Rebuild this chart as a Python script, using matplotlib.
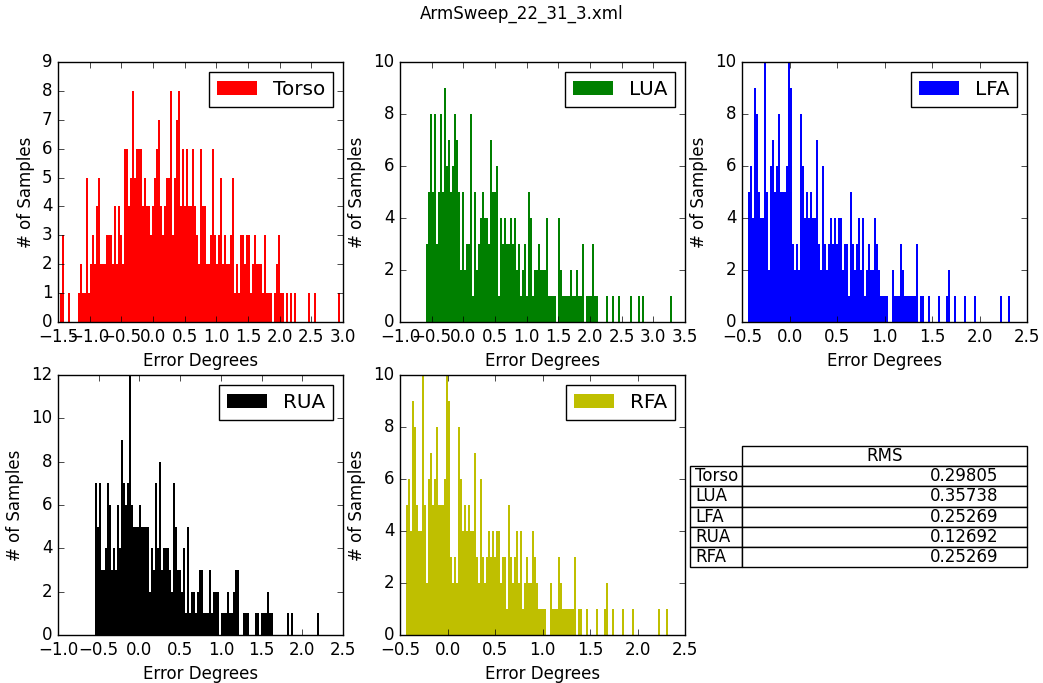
import numpy as np
import matplotlib
matplotlib.use("Agg")
import matplotlib.pyplot as plt

# ---------------- data (histogram counts) ----------------
title = "ArmSweep_22_31_3.xml"
parts = ["Torso", "LUA", "LFA", "RUA", "RFA"]
rms_values = [0.29805, 0.35738, 0.25269, 0.12692, 0.25269]

torso_start, torso_width = -1.468, 0.0316
torso_counts = [1, 3, 0, 0, 1, 0, 0, 0, 0, 1, 2, 1, 1, 5, 1, 2, 3, 2, 4, 5,
                2, 2, 2, 3, 3, 3, 2, 4, 2, 4, 3, 2, 6, 6, 4, 5, 8, 5, 6, 6,
                6, 4, 5, 4, 4, 3, 4, 5, 6, 7, 4, 3, 4, 5, 5, 8, 3, 5, 7, 8,
                4, 6, 4, 6, 4, 4, 6, 4, 3, 2, 6, 4, 4, 2, 2, 3, 6, 3, 2, 3,
                5, 2, 3, 2, 2, 3, 5, 1, 2, 1, 3, 3, 2, 3, 3, 1, 2, 3, 2, 2,
                2, 1, 3, 1, 1, 1, 0, 1, 2, 3, 1, 1, 0, 1, 0, 1, 0, 1, 0, 0,
                0, 0, 0, 0, 1, 0, 0, 1, 0, 0, 0, 0, 0, 0, 0, 0, 0, 0, 0, 1]

lua_start, lua_width = -0.595, 0.0316
lua_counts = [3, 5, 8, 5, 8, 3, 5, 8, 5, 9, 6, 7, 5, 6, 8, 7, 5, 2, 5, 2,
              3, 3, 8, 1, 5, 2, 3, 4, 5, 4, 4, 3, 7, 5, 5, 6, 1, 4, 3, 4,
              3, 3, 4, 3, 4, 2, 3, 1, 2, 3, 1, 5, 4, 1, 2, 2, 3, 2, 2, 2,
              4, 1, 1, 1, 1, 0, 4, 2, 1, 1, 1, 1, 2, 1, 1, 2, 1, 1, 3, 0,
              1, 1, 1, 3, 1, 1, 0, 0, 0, 0, 1, 0, 0, 1, 0, 0, 1, 0, 0, 0,
              0, 0, 1, 0, 0, 0, 1, 0, 1, 0, 0, 0, 0, 0, 0, 0, 0, 0, 0, 0,
              0, 0, 1]

lfa_start, lfa_width = -0.4333, 0.02105
lfa_counts = [5, 6, 4, 9, 8, 5, 4, 4, 10, 5, 2, 6, 7, 5, 6, 8, 5, 5, 5, 6,
              10, 9, 3, 2, 3, 2, 8, 6, 4, 5, 4, 5, 4, 4, 7, 3, 2, 6, 3, 2,
              3, 4, 3, 4, 3, 4, 4, 2, 3, 3, 1, 5, 3, 2, 3, 4, 2, 4, 1, 2,
              3, 2, 2, 4, 3, 2, 1, 1, 1, 1, 0, 0, 2, 1, 1, 1, 3, 2, 1, 1,
              1, 1, 1, 1, 3, 0, 1, 1, 0, 0, 1, 0, 0, 0, 0, 1, 0, 0, 0, 1,
              2, 0, 0, 1, 0, 0, 0, 0, 1, 0, 0, 0, 0, 1, 0, 0, 0, 0, 0, 0,
              0, 0, 0, 0, 0, 0, 1, 0, 0, 0, 1]

rua_start, rua_width = -0.545, 0.0246
rua_counts = [7, 5, 7, 3, 3, 4, 7, 6, 3, 4, 3, 6, 4, 9, 7, 6, 7, 12, 6, 5,
              5, 5, 6, 5, 5, 5, 5, 2, 4, 3, 7, 4, 8, 3, 4, 4, 4, 3, 2, 7,
              5, 3, 3, 2, 4, 1, 5, 1, 2, 2, 1, 2, 3, 3, 1, 1, 1, 3, 1, 2,
              2, 2, 0, 1, 1, 1, 2, 1, 1, 2, 3, 3, 0, 0, 1, 1, 1, 0, 0, 0,
              1, 1, 0, 1, 1, 1, 2, 1, 1, 0, 0, 0, 0, 0, 0, 0, 1, 0, 1, 0,
              0, 0, 0, 0, 0, 0, 0, 0, 0, 0, 0, 1]

# RFA histogram is identical to LFA in the picture (same RMS as well)
rfa_start, rfa_width = -0.4333, 0.02105
rfa_counts = list(lfa_counts)

# ---------------- figure ----------------
plt.style.use("classic")
plt.rcParams["font.family"] = ["DejaVu Sans"]

fig, axes = plt.subplots(2, 3, figsize=(10.43, 6.83), dpi=100)
fig.patch.set_facecolor("white")
fig.subplots_adjust(left=0.0556, right=0.9847, top=0.9092, bottom=0.0703,
                    wspace=0.2, hspace=0.204)
fig.suptitle(title, y=0.993)

series = [
    (torso_start, torso_width, torso_counts, "r", (-1.5, 3.0), (0, 9), 1),
    (lua_start, lua_width, lua_counts, "g", (-1.0, 3.5), (0, 10), 2),
    (lfa_start, lfa_width, lfa_counts, "b", (-0.5, 2.5), (0, 10), 2),
    (rua_start, rua_width, rua_counts, "k", (-1.0, 2.5), (0, 12), 2),
    (rfa_start, rfa_width, rfa_counts, "y", (-0.5, 2.5), (0, 10), 2),
]

for ax, name, (start, w, counts, col, xl, yl, ystep) in zip(axes.flat, parts, series):
    counts = np.asarray(counts)
    edges = start + w * np.arange(len(counts))
    ax.bar(edges, counts, width=w, align="edge", color=col, linewidth=0,
           label=name)
    ax.set_xlim(*xl)
    ax.set_ylim(*yl)
    ax.set_xticks(np.arange(xl[0], xl[1] + 0.01, 0.5))
    ax.set_yticks(np.arange(yl[0], yl[1] + 0.01, ystep))
    ax.set_xlabel("Error Degrees")
    ax.set_ylabel("# of Samples")
    ax.legend(loc="upper right")

ax6 = axes[1, 2]
ax6.axis("off")
label_w = 0.1825
# bbox covers the data grid (header + value column); row labels sit to its left
tab = ax6.table(cellText=[["%.5f" % v] for v in rms_values],
                rowLabels=parts, colLabels=["RMS"], colWidths=[1.0],
                bbox=[0.0, 0.2615, 1.0, 0.4654])
tab.auto_set_font_size(False)
tab.set_fontsize(12)
tab._autoColumns = []
for r in range(1, len(parts) + 1):
    tab[(r, -1)].set_width(label_w)

fig.savefig("out.png", dpi=100, facecolor="white")
